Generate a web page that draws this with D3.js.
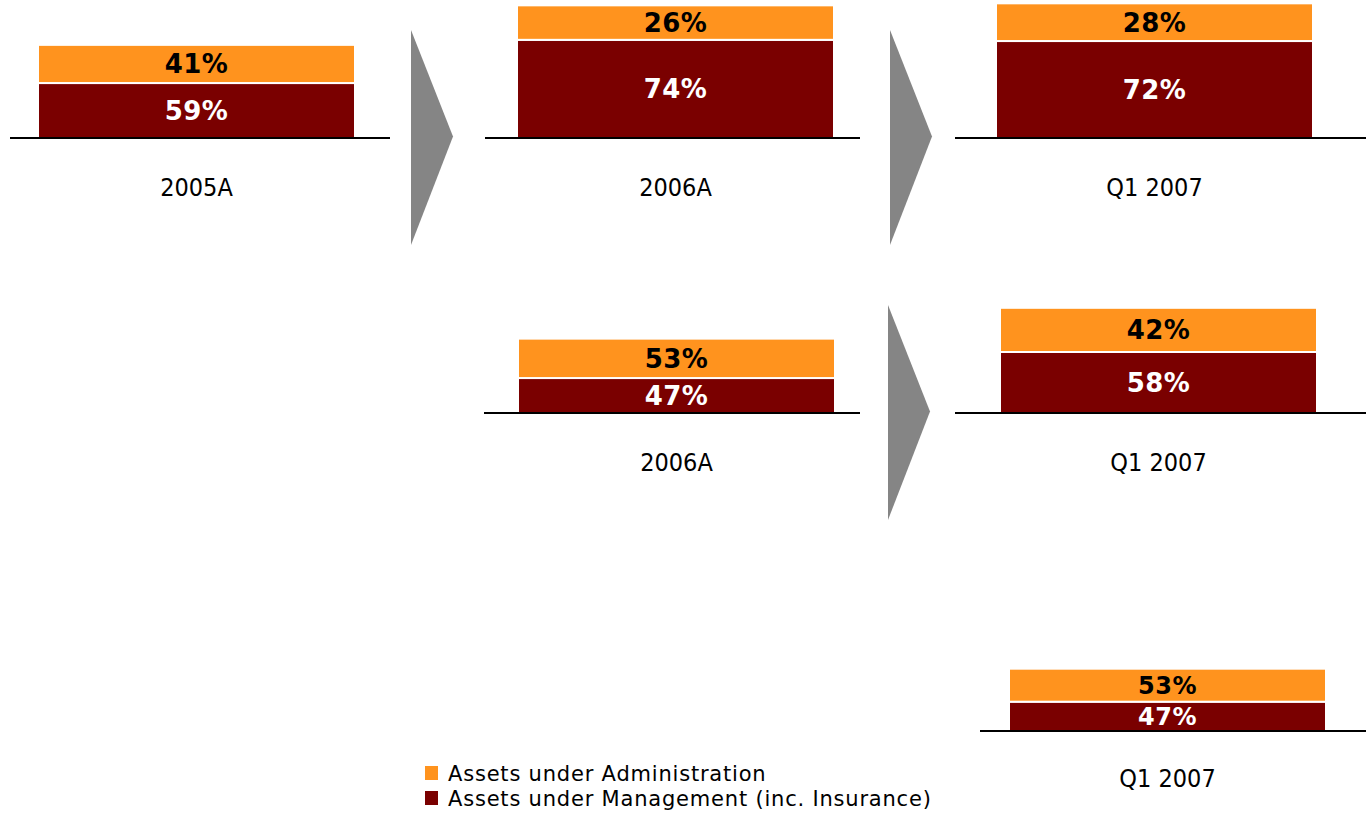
<!DOCTYPE html>
<html>
<head>
<meta charset="utf-8">
<script src="https://cdn.jsdelivr.net/npm/d3@7"></script>
<style>
  html, body { margin: 0; padding: 0; background: #fff; }
  svg { display: block; }
  .cat { font-family: "DejaVu Sans Condensed", "DejaVu Sans", sans-serif; font-stretch: condensed; }
  .val { font-family: "DejaVu Sans", Verdana, sans-serif; font-weight: bold; }
  .leg { font-family: "DejaVu Sans", sans-serif; }
</style>
</head>
<body>
<div id="chart"></div>
<script>
// Values
const periods = ["2005A", "2006A", "Q1 2007", "2006A", "Q1 2007", "Q1 2007"];
const adminShare = [41, 26, 28, 53, 42, 53];      // Assets under Administration, %
const mgmtShare = [59, 74, 72, 47, 58, 47];       // Assets under Management (inc. Insurance), %
const barSize = [69.5, 99, 100.5, 55.5, 78.5, 46.5]; // relative total, Q1 2007 (row 1) = 100
const seriesNames = ["Assets under Administration", "Assets under Management (inc. Insurance)"];
const seriesColors = ["#ff931e", "#7a0000"];
const labelColors = ["#000", "#fff"];

// Layout of the panels (row, column, small nudges)
const width = 1367, height = 814;
const rowBase = [138, 413, 731];
const panelRow = [0, 0, 0, 1, 1, 2];
const panelCol = [0, 1, 2, 1, 2, 2];
const panelShift = [0, 0, 0, 1, 4, 13];
const lineExtent = [[10, 390], [485, 860], [955, 1366], [484, 860], [955, 1366], [980, 1366]];
const valueFont = [26, 26, 26, 26, 26, 24];
const arrows = [
  { col: 0, top: 30, bottom: 245, dx: 0 },
  { col: 1, top: 30, bottom: 245, dx: 0 },
  { col: 1, top: 305, bottom: 520, dx: -2 }
];

const svg = d3.select("#chart").append("svg")
  .attr("width", width)
  .attr("height", height);

// left edge of the bar in each column
const x = d3.scaleLinear().domain([0, 2]).range([38, 996]);

const barW = 317;
const y = d3.scaleLinear().domain([0, 100]).range([0, 134]);

const panels = periods.map((p, i) => ({
  i, label: p,
  row: panelRow[i], col: panelCol[i],
  admin: adminShare[i], mgmt: mgmtShare[i], total: barSize[i]
}));

const g = svg.selectAll("g.panel")
  .data(panels)
  .join("g")
  .attr("class", "panel");

g.each(function(d) {
  const sel = d3.select(this);
  const x0 = x(d.col) + panelShift[d.i];
  const base = rowBase[d.row];
  const hTot = y(d.total);
  const hMgmt = hTot * d.mgmt / 100;

  const segs = [
    { key: 1, top: base - hMgmt, h: hMgmt, v: d.mgmt },
    { key: 0, top: base - hTot, h: hTot - hMgmt, v: d.admin }
  ];

  sel.selectAll("rect")
    .data(segs)
    .join("rect")
    .attr("x", x0)
    .attr("y", s => s.top)
    .attr("width", barW)
    .attr("height", s => s.h)
    .attr("fill", s => seriesColors[s.key])
    .attr("stroke", "#fff")
    .attr("stroke-width", 2);

  sel.selectAll("text.val")
    .data(segs)
    .join("text")
    .attr("class", "val")
    .attr("x", x0 + barW / 2)
    .attr("y", s => s.top + s.h / 2)
    .attr("dy", "0.36em")
    .attr("text-anchor", "middle")
    .attr("fill", s => labelColors[s.key])
    .style("font-size", valueFont[d.i] + "px")
    .style("letter-spacing", "0.5px")
    .text(s => s.v + "%");

  const ext = lineExtent[d.i];
  sel.append("line")
    .attr("x1", ext[0]).attr("x2", ext[1])
    .attr("y1", base).attr("y2", base)
    .attr("stroke", "#000")
    .attr("stroke-width", 2);

  sel.append("text")
    .attr("class", "cat")
    .attr("x", x0 + barW / 2)
    .attr("y", base + (d.row === 2 ? 47 : 49))
    .attr("dy", "0.36em")
    .attr("text-anchor", "middle")
    .style("font-size", "25px")
    .attr("fill", "#000")
    .text(d.label);
});

// chevron arrows between periods
svg.selectAll("path.arrow")
  .data(arrows)
  .join("path")
  .attr("class", "arrow")
  .attr("fill", "#858585")
  .attr("d", a => {
    const ax = x(a.col) + barW + 56 + a.dx;
    const mid = (a.top + a.bottom) / 2 - 1;
    return d3.line()([[ax, a.top], [ax + 42, mid], [ax, a.bottom]]) + "Z";
  });

// legend
const legend = svg.append("g").attr("transform", "translate(425,766)");
const li = legend.selectAll("g")
  .data(seriesNames)
  .join("g")
  .attr("transform", (d, i) => `translate(0,${i * 25})`);
li.append("rect")
  .attr("width", 13).attr("height", 14)
  .attr("fill", (d, i) => seriesColors[i]);
li.append("text")
  .attr("class", "leg")
  .attr("x", 23)
  .attr("y", 7)
  .attr("dy", "0.36em")
  .style("font-size", "21px")
  .style("letter-spacing", "0.8px")
  .text(d => d);
</script>
</body>
</html>
